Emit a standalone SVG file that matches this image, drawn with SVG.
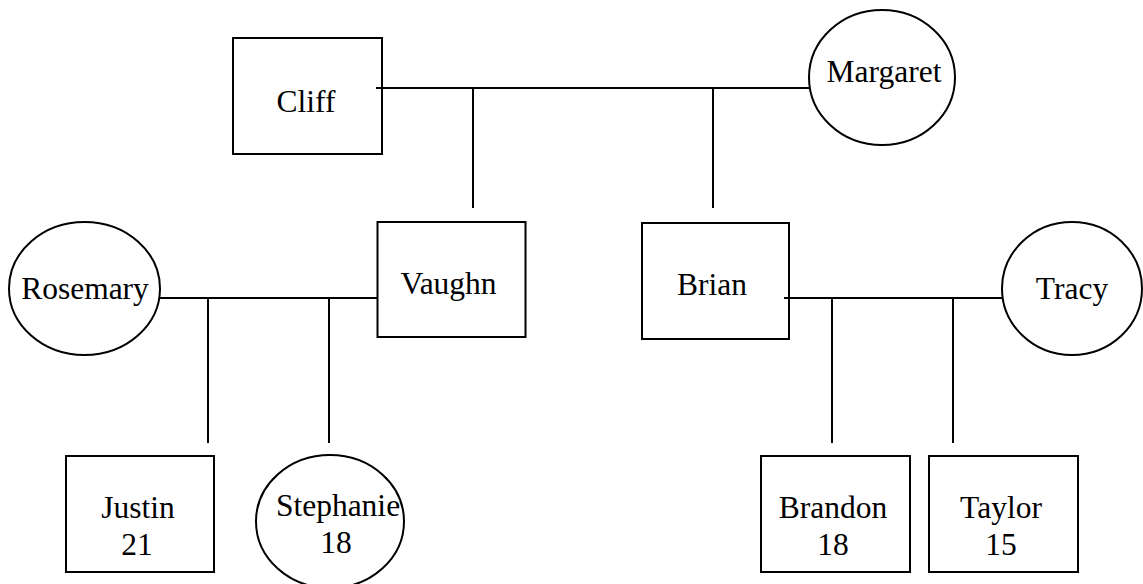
<svg xmlns="http://www.w3.org/2000/svg" width="1143" height="584" viewBox="0 0 1143 584">
<style>
.n{fill:#fff;stroke:#000;stroke-width:2}
.c line{stroke:#000;stroke-width:2}
text{font-family:"Liberation Serif","Times New Roman",serif;font-size:31.5px;fill:#000;text-anchor:middle}
</style>
<rect width="1143" height="584" fill="#fff"/>
<g id="connectors" class="c">
<line x1="376" y1="88" x2="809" y2="88"/>
<line x1="473" y1="88" x2="473" y2="208"/>
<line x1="713" y1="88" x2="713" y2="208"/>
<line x1="160" y1="298" x2="378" y2="298"/>
<line x1="208" y1="298" x2="208" y2="443"/>
<line x1="329" y1="298" x2="329" y2="443"/>
<line x1="784" y1="298" x2="1002" y2="298"/>
<line x1="832" y1="298" x2="832" y2="443"/>
<line x1="953" y1="298" x2="953" y2="443"/>
</g>
<g id="cliff"><rect class="n" x="233" y="38" width="149" height="116"/><text x="306" y="112">Cliff</text></g>
<line x1="376" y1="88" x2="382" y2="88" stroke="#000" stroke-width="2"/>
<g id="margaret"><ellipse class="n" cx="882" cy="77.5" rx="73" ry="67.5"/><text x="884" y="82">Margaret</text></g>
<g id="rosemary"><ellipse class="n" cx="84.5" cy="288.5" rx="75.5" ry="66.5"/><text x="85" y="299">Rosemary</text></g>
<g id="vaughn"><rect class="n" x="377.5" y="222" width="148" height="115"/><text x="448.5" y="294">Vaughn</text></g>
<g id="brian"><rect class="n" x="642" y="223" width="147" height="116"/><text x="712" y="295">Brian</text></g>
<line x1="784" y1="298" x2="789" y2="298" stroke="#000" stroke-width="2"/>
<g id="tracy"><ellipse class="n" cx="1072" cy="288.5" rx="70" ry="66.5"/><text x="1072" y="299">Tracy</text></g>
<g id="justin"><rect class="n" x="66" y="456" width="148" height="116"/><text x="138" y="518">Justin</text><text x="137" y="555">21</text></g>
<g id="stephanie"><ellipse class="n" cx="330" cy="521.5" rx="74" ry="66.5"/><text x="338" y="516">Stephanie</text><text x="336" y="553">18</text></g>
<g id="brandon"><rect class="n" x="761" y="456" width="149" height="116"/><text x="833" y="518">Brandon</text><text x="833" y="555">18</text></g>
<g id="taylor"><rect class="n" x="929" y="456" width="149" height="116"/><text x="1001" y="518">Taylor</text><text x="1001" y="555">15</text></g>
</svg>
